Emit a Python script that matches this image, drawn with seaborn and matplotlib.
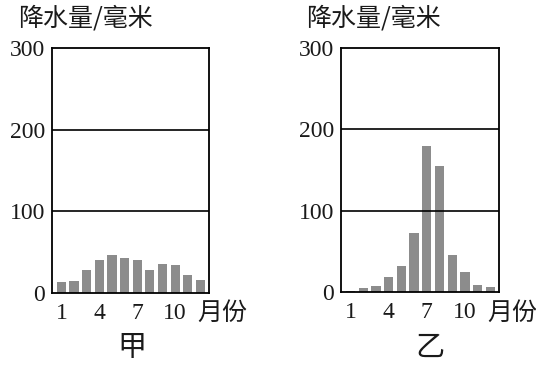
import pandas as pd
import seaborn as sns
import matplotlib.pyplot as plt

# 月降水量（毫米）
months = list(range(1, 13))
rain_jia = [13, 15, 28, 40, 46, 43, 40, 28, 35, 34, 22, 16]
rain_yi = [1, 5, 7, 18, 32, 73, 180, 155, 46, 24, 9, 6]
panel_names = ['甲', '乙']
y_ticks = [0, 100, 200, 300]
x_ticks = [1, 4, 7, 10]

sns.set_theme(style='white')
plt.rcParams['font.family'] = ['Noto Sans CJK SC', 'DejaVu Sans']

fig = plt.figure(figsize=(5.36, 3.71), dpi=100)
W, H = 536, 371

def px_axes(x0, y0, x1, y1):
    return fig.add_axes([x0 / W, 1 - y1 / H, (x1 - x0) / W, (y1 - y0) / H])

panels = [
    (rain_jia, px_axes(52, 48, 209, 293), 18, 197, 132),
    (rain_yi, px_axes(341, 48, 499, 292), 306, 487, 430),
]

for i, (vals, ax, title_x, unit_x, name_x) in enumerate(panels):
    df = pd.DataFrame({'month': months, 'rain': vals})
    sns.barplot(data=df, x='month', y='rain', native_scale=True, width=0.73,
                color='#8c8c8c', saturation=1, edgecolor='none', ax=ax)
    ax.set_xlim(0.25, 12.68)
    ax.set_ylim(0, 300)
    for v in y_ticks[1:3]:
        ax.axhline(v, color='black', lw=1.2, zorder=3)
    ax.set_yticks(y_ticks)
    ax.set_xticks(x_ticks)
    ax.set_xlabel('')
    ax.set_ylabel('')
    ax.tick_params(length=0)
    ax.tick_params(axis='y', pad=5)
    ax.tick_params(axis='x', pad=7)
    for lab in ax.get_xticklabels() + ax.get_yticklabels():
        lab.set_fontfamily('Liberation Serif')
        lab.set_fontsize(17)
        lab.set_color('#1a1a1a')
    for s in ax.spines.values():
        s.set_color('black')
        s.set_linewidth(1.3)
        s.set_visible(True)

    fig.text(title_x / W, 1 - 6 / H, '降水量/毫米', ha='left', va='top',
             fontsize=18, color='#1a1a1a')
    fig.text(unit_x / W, 1 - 313 / H, '月份', ha='left', va='center',
             fontsize=18, color='#1a1a1a')
    fig.text(name_x / W, 1 - 348 / H, panel_names[i], ha='center', va='center',
             fontsize=21, color='#1a1a1a')

fig.savefig('out.png', dpi=100)
